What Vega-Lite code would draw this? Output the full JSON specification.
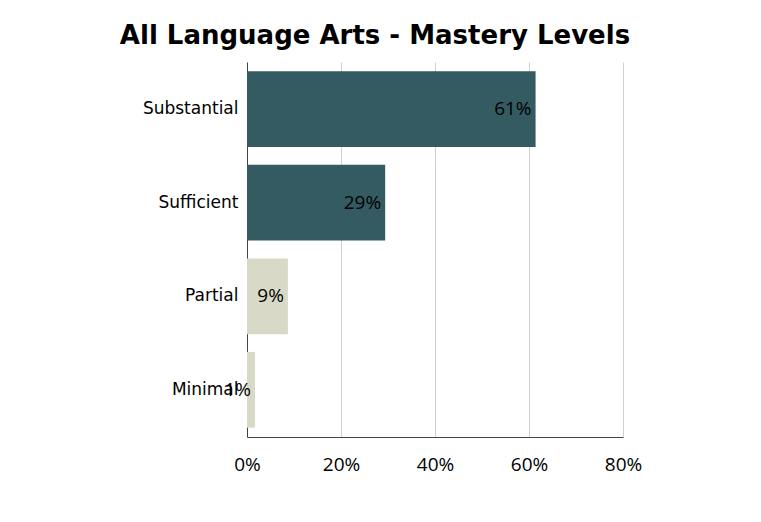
{
  "$schema": "https://vega.github.io/schema/vega-lite/v6.json",
  "width": 376,
  "height": 375,
  "autosize": "none",
  "padding": {"left": 247, "top": 62, "right": 138, "bottom": 85},
  "background": "white",
  "title": {
    "text": "All Language Arts - Mastery Levels",
    "font": "DejaVu Sans",
    "fontWeight": "bold",
    "fontSize": 26,
    "color": "black",
    "anchor": "middle",
    "dx": -60,
    "offset": 13
  },
  "data": {
    "values": [
      {"level": "Substantial", "pct": 0.614, "label": "61%", "group": "high"},
      {"level": "Sufficient", "pct": 0.294, "label": "29%", "group": "high"},
      {"level": "Partial", "pct": 0.087, "label": "9%", "group": "low"},
      {"level": "Minimal", "pct": 0.017, "label": "1%", "group": "low"}
    ]
  },
  "encoding": {
    "y": {
      "field": "level",
      "type": "nominal",
      "sort": ["Substantial", "Sufficient", "Partial", "Minimal"],
      "scale": {"paddingInner": 0.19, "paddingOuter": 0.1},
      "axis": {
        "title": null,
        "domain": true,
        "domainColor": "#444444",
        "ticks": false,
        "labelFont": "DejaVu Sans",
        "labelFontSize": 17,
        "labelColor": "black",
        "labelPadding": 9
      }
    },
    "x": {
      "field": "pct",
      "type": "quantitative",
      "scale": {"domain": [0, 0.8]},
      "axis": {
        "title": null,
        "format": ".0%",
        "values": [0, 0.2, 0.4, 0.6, 0.8],
        "ticks": false,
        "labelFlush": false,
        "domainColor": "#444444",
        "gridColor": "#d0d0d0",
        "labelFont": "Open Sans",
        "labelFontSize": 19,
        "labelColor": "black",
        "labelPadding": 18
      }
    }
  },
  "layer": [
    {
      "mark": {"type": "bar"},
      "encoding": {
        "color": {
          "field": "group",
          "type": "nominal",
          "scale": {"domain": ["high", "low"], "range": ["#345b62", "#d9d9c7"]},
          "legend": null
        }
      }
    },
    {
      "mark": {"type": "text", "align": "right", "dx": -4, "font": "Open Sans", "fontSize": 19, "color": "black"},
      "encoding": {"text": {"field": "label"}}
    }
  ],
  "config": {
    "view": {"stroke": null}
  }
}
